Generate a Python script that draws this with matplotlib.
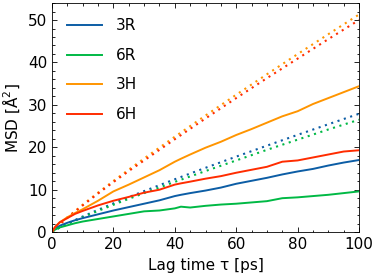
import matplotlib
matplotlib.use("Agg")
import matplotlib.pyplot as plt
from matplotlib.ticker import MultipleLocator

# lag time grid of the MSD curves [ps]
lag = [0, 1, 2.5, 5, 7.5, 10, 15, 20, 25, 30, 35, 40, 42, 45, 50, 55,
       60, 65, 70, 75, 80, 85, 90, 95, 100]
msd_3R = [0, 0.8, 1.5, 2.2, 2.8, 3.3, 4.2, 5.1, 5.9, 6.7, 7.5, 8.5, 8.8, 9.2,
          9.8, 10.5, 11.4, 12.1, 12.8, 13.6, 14.3, 14.9, 15.7, 16.4, 17.0]
msd_6R = [0, 0.6, 1.1, 1.6, 2.1, 2.5, 3.1, 3.7, 4.3, 4.9, 5.1, 5.6, 6.0, 5.8,
          6.2, 6.5, 6.7, 7.0, 7.3, 8.0, 8.2, 8.5, 8.8, 9.2, 9.6]
msd_3H = [0, 1.2, 2.3, 3.5, 4.5, 5.4, 7.4, 9.6, 11.2, 12.9, 14.6, 16.6, 17.3,
          18.3, 19.9, 21.3, 22.9, 24.3, 25.8, 27.3, 28.5, 30.2, 31.6, 33.0, 34.4]
msd_6H = [0, 1.2, 2.3, 3.3, 4.3, 5.0, 6.3, 7.4, 8.3, 9.3, 10.0, 11.2, 11.5,
          11.9, 12.6, 13.2, 14.0, 14.7, 15.4, 16.6, 16.9, 17.6, 18.3, 19.0, 19.3]

# dotted reference curves
lag_ref = [0, 1, 2.5, 5, 10, 15, 20, 25, 30, 40, 50, 60, 70, 80, 90, 100]
ref_3R = [0, 0.49, 1.1, 2.0, 3.68, 5.26, 6.77, 8.24, 9.67, 12.46, 15.16,
          17.8, 20.38, 22.93, 25.43, 27.9]
ref_6R = [0, 0.47, 1.05, 1.9, 3.5, 5.0, 6.45, 7.85, 9.2, 11.85, 14.4,
          16.9, 19.4, 21.8, 24.2, 26.5]
ref_3H = [0, 0.81, 1.86, 3.46, 6.46, 9.31, 12.06, 14.73, 17.36, 22.49, 27.49,
          32.39, 37.21, 41.97, 46.66, 51.3]
ref_6H = [0, 0.79, 1.81, 3.4, 6.3, 9.1, 11.8, 14.4, 16.9, 21.9, 26.8,
          31.6, 36.3, 40.9, 45.5, 50.0]

labels = ["3R", "6R", "3H", "6H"]
colors = ["#0C5DA5", "#00B945", "#FF9500", "#FF2C00"]

plt.rcParams["font.size"] = 11
plt.rcParams["xtick.direction"] = "in"
plt.rcParams["ytick.direction"] = "in"

fig = plt.figure(figsize=(3.74, 2.78), dpi=100)
ax = fig.add_axes([0.139, 0.165, 0.821, 0.824])

for ys, c in zip([ref_3R, ref_6R, ref_3H, ref_6H], colors):
    ax.plot(lag_ref, ys, ls=(0, (1, 2.2)), lw=1.5, color=c)
for ys, lab, c in zip([msd_3R, msd_6R, msd_3H, msd_6H], labels, colors):
    ax.plot(lag, ys, lw=1.4, color=c, label=lab)

ax.set_xlim(0, 100)
ax.set_ylim(0, 54)
ax.xaxis.set_major_locator(MultipleLocator(20))
ax.xaxis.set_minor_locator(MultipleLocator(5))
ax.yaxis.set_major_locator(MultipleLocator(10))
ax.yaxis.set_minor_locator(MultipleLocator(2))
ax.tick_params(which="both", top=True, right=True, width=0.6)
ax.tick_params(which="major", length=3.5)
ax.tick_params(which="minor", length=1.8)
for s in ax.spines.values():
    s.set_linewidth(0.6)

ax.set_xlabel("Lag time τ [ps]")
ax.set_ylabel("MSD [Å$^2$]")
ax.legend(loc="upper left", frameon=False, handlelength=2.3,
          handletextpad=0.9, labelspacing=0.95, borderaxespad=0.6)

fig.savefig("out.png", dpi=100)
